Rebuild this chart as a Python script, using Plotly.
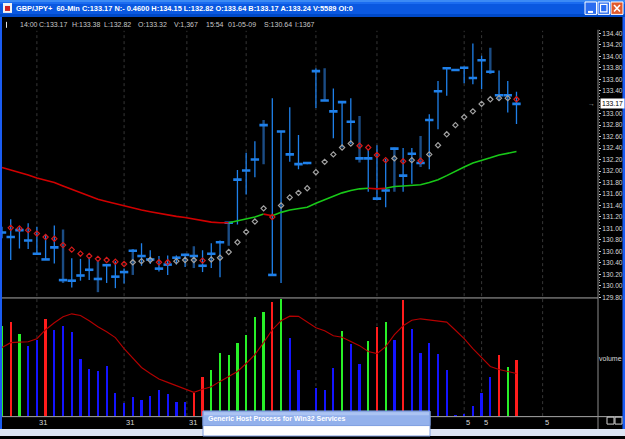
import plotly.graph_objects as go

# ---------------- data ----------------
bar_index = list(range(60))

highs = [131.03, 131.16, 131.02, 131.09, 131.03, 130.90, 131.05, 130.98, 130.48, 130.47,
         130.50, 130.43, 130.38, 130.43, 130.30, 130.64, 130.74, 130.62, 130.52, 130.53,
         130.53, 130.56, 130.69, 130.62, 130.74, 130.79, 131.10, 132.02, 132.32, 132.52,
         132.89, 133.27, 132.69, 133.11, 132.63, 132.15, 133.79, 133.79, 133.44, 133.20,
         133.27, 132.96, 132.38, 132.45, 132.21, 132.41, 132.40, 132.40, 132.61, 132.99,
         133.57, 133.80, 133.77, 133.82, 134.22, 134.01, 134.15, 133.75, 133.57, 133.38]
lows = [130.83, 130.45, 130.65, 130.64, 130.54, 130.45, 130.39, 130.05, 129.97, 130.09,
        130.10, 129.89, 130.05, 129.96, 130.04, 130.19, 130.35, 130.38, 130.25, 130.19,
        130.37, 130.33, 130.31, 130.24, 130.31, 130.15, 130.70, 131.07, 131.59, 131.89,
        132.12, 130.19, 130.05, 132.16, 132.03, 132.12, 133.10, 133.23, 132.57, 132.41,
        132.47, 132.15, 131.64, 131.49, 131.37, 131.64, 131.64, 131.78, 132.07, 132.03,
        132.73, 133.31, 133.75, 133.53, 133.51, 133.43, 133.69, 133.22, 133.02, 132.82]
closes = [130.93, 130.85, 130.97, 130.79, 130.56, 130.46, 130.67, 130.10, 130.09, 130.18,
          130.28, 130.12, 130.36, 130.16, 130.24, 130.61, 130.52, 130.46, 130.30, 130.37,
          130.49, 130.54, 130.52, 130.35, 130.56, 130.76, 131.10, 131.85, 132.01, 132.20,
          132.80, 130.19, 132.69, 132.29, 132.12, 132.14, 133.74, 133.23, 133.04, 133.20,
          132.86, 132.22, 132.22, 131.52, 131.66, 132.39, 131.92, 132.30, 132.14, 132.89,
          133.39, 133.79, 133.76, 133.80, 133.62, 133.93, 133.73, 133.32, 133.32, 133.17]
dark_bars = [7, 11, 15, 22, 26, 30, 37, 41, 45, 48, 56]

sar = [None, 131.01, 131.00, 130.97, 130.91, 130.85, 130.82, 130.71, 130.63, 130.56,
       130.52, 130.47, 130.45, 130.42, 130.38, 130.41, 130.43, 130.45, 130.41, 130.41,
       130.43, 130.45, 130.45, 130.44, 130.46, 130.49, 130.59, 130.76, 130.94, 131.12,
       131.35, 131.20, 131.40, 131.54, 131.62, 131.70, 131.98, 132.16, 132.29, 132.41,
       132.48, 132.44, 132.41, 132.28, 132.19, 132.22, 132.17, 132.19, 132.18, 132.29,
       132.45, 132.64, 132.80, 132.94, 133.04, 133.17, 133.25, 133.27, 133.27, 133.25]
sar_kind = ("-" + "r" * 14 + "g" * 3 + "r" * 2 + "g" * 3 + "r" + "g" * 7 + "r" + "g" * 9
            + "r" * 4 + "g" + "r" + "g" + "r" + "g" * 10 + "r")

ma = [132.06, 132.02, 131.98, 131.93, 131.88, 131.84, 131.80, 131.74, 131.68, 131.62,
      131.56, 131.51, 131.47, 131.43, 131.39, 131.36, 131.32, 131.29, 131.26, 131.24,
      131.21, 131.19, 131.16, 131.14, 131.11, 131.10, 131.10, 131.13, 131.16, 131.20,
      131.25, 131.22, 131.28, 131.32, 131.34, 131.37, 131.44, 131.50, 131.57, 131.62,
      131.66, 131.69, 131.70, 131.69, 131.70, 131.73, 131.74, 131.75, 131.76, 131.80,
      131.85, 131.92, 132.00, 132.07, 132.14, 132.18, 132.23, 132.28, 132.31, 132.34]
ma_seg_kind = "r" * 26 + "g" * 4 + "r" + "g" * 11 + "r" * 2 + "g" * 15

volumes = [2219, 2309, 2017, 1718, 1871, 2389, 2097, 2204, 2066, 1402,
           1166, 1101, 1239, 559, 316, 462, 389, 493, 639, 552,
           347, 347, 559, 948, 1142, 1548, 1490, 1798, 1993, 2430,
           2552, 2795, 2875, 1920, 1135, 49, 680, 649, 1191, 2090,
           1774, 1281, 1840, 2187, 2309, 1854, 2850, 2138, 1555, 1798,
           1514, 1142, 32, 56, 260, 559, 955, 1507, 1215, 1367]
vol_kind = ("grgbbr" + "b" * 16 + "rr" + "g" * 7 + "rg" + "b" * 6 + "gbbgrgbr"
            + "b" * 10 + "rgr")
vol_ma = [1677, 1798, 1810, 1822, 1895, 2114, 2284, 2430, 2503, 2462,
          2333, 2187, 2066, 1920, 1652, 1409, 1191, 1045, 911, 826,
          746, 656, 583, 656, 717, 850, 972, 1094, 1288, 1507,
          1798, 2114, 2333, 2447, 2442, 2309, 2163, 2090, 1968, 1932,
          1822, 1725, 1580, 1531, 1701, 1993, 2211, 2345, 2381, 2357,
          2333, 2301, 2102, 1895, 1652, 1434, 1215, 1142, 1094, 1045]

price_ticks = [129.8, 130.0, 130.2, 130.4, 130.6, 130.8, 131.0, 131.2, 131.4, 131.6,
               131.8, 132.0, 132.2, 132.4, 132.6, 132.8, 133.0, 133.4, 133.6, 133.8,
               134.0, 134.2, 134.4]
last_price = 133.17

grid_at = [4, 14, 21.2, 28, 36, 43, 53, 55, 62]
x_labels = {4: "31", 14: "31", 21.2: "31", 53: "5", 55: "5", 62: "5"}

title_text = ("GBP/JPY+  60-Min C:133.17 N:- 0.4600 H:134.15 L:132.82 O:133.64 "
              "B:133.17 A:133.24 V:5589 OI:0")
info_fields = [("14:00", 18), ("C:133.17", 37), ("H:133.38", 70), ("L:132.82", 102),
               ("O:133.32", 136), ("V:1,367", 172), ("15:54", 204), ("01-05-09", 226),
               ("S:130.64", 262), ("I:1367", 293)]

# ---------------- geometry ----------------
W, H = 625, 439
def px(x):
    return x / W
def py(y):
    return 1 - y / H

X_RANGE = [-2 / 8.72, (598 - 2) / 8.72]
PRICE_RANGE = [129.789, 134.461]
VOL_RANGE = [0, 2892]
FONT = "Liberation Sans"

BRIGHT = "#1f80ea"
DARK = "#1b4c84"

fig = go.Figure()

# price bars (high-low)
for dark, color, width in [(False, BRIGHT, 1.3), (True, DARK, 2.4)]:
    xs, ys = [], []
    for i in bar_index:
        if (i in dark_bars) == dark:
            xs += [i, i, None]
            ys += [lows[i], highs[i], None]
    fig.add_trace(go.Scatter(x=xs, y=ys, mode="lines", line=dict(color=color, width=width),
                             xaxis="x", yaxis="y", hoverinfo="skip"))

# close ticks
fig.add_trace(go.Scatter(x=bar_index, y=closes, mode="markers",
                         marker=dict(symbol="line-ew", size=6,
                                     line=dict(width=2.6, color=BRIGHT)),
                         xaxis="x", yaxis="y", hoverinfo="skip"))

# moving average, coloured segments
runs = []
start = 0
for s in range(1, len(ma_seg_kind) + 1):
    if s == len(ma_seg_kind) or ma_seg_kind[s] != ma_seg_kind[start]:
        runs.append((start, s, ma_seg_kind[start]))
        start = s
for a, b, k in runs:
    fig.add_trace(go.Scatter(x=bar_index[a:b + 1], y=ma[a:b + 1], mode="lines",
                             line=dict(color="#d00000" if k == "r" else "#18c818", width=1.6),
                             xaxis="x", yaxis="y", hoverinfo="skip"))

# parabolic SAR
for k, color in [("r", "#d41a1a"), ("g", "#a0a0a0")]:
    xs = [i for i in bar_index if sar_kind[i] == k]
    ys = [sar[i] for i in xs]
    fig.add_trace(go.Scatter(x=xs, y=ys, mode="markers",
                             marker=dict(symbol="diamond-open", size=4,
                                         line=dict(width=1.2, color=color), color=color),
                             xaxis="x", yaxis="y", hoverinfo="skip"))

# volume
vcol = {"g": "#28f028", "r": "#ff1c1c", "b": "#1414ff"}
fig.add_trace(go.Bar(x=bar_index, y=volumes, width=0.26,
                     marker=dict(color=[vcol[k] for k in vol_kind], line=dict(width=0)),
                     xaxis="x2", yaxis="y2", hoverinfo="skip"))
fig.add_trace(go.Scatter(x=bar_index, y=vol_ma, mode="lines",
                         line=dict(color="#b40000", width=1.1),
                         xaxis="x2", yaxis="y2", hoverinfo="skip"))

shapes = []
def rect(x0, y0, x1, y1, fill, line=None, lw=0):
    shapes.append(dict(type="rect", xref="paper", yref="paper",
                       x0=px(x0), x1=px(x1), y0=py(y1), y1=py(y0),
                       fillcolor=fill, line=dict(width=lw, color=line or fill), layer="above"))
def hline(x0, x1, y, color, w=1, dash=None):
    shapes.append(dict(type="line", xref="paper", yref="paper", x0=px(x0), x1=px(x1),
                       y0=py(y), y1=py(y), line=dict(color=color, width=w, dash=dash),
                       layer="above"))
def vline(x, y0, y1, color, w=1, dash=None):
    shapes.append(dict(type="line", xref="paper", yref="paper", x0=px(x), x1=px(x),
                       y0=py(y0), y1=py(y1), line=dict(color=color, width=w, dash=dash),
                       layer="above"))

# dotted time grid
for g in grid_at:
    shapes.append(dict(type="line", xref="x", yref="paper", x0=g, x1=g,
                       y0=py(419), y1=py(31), line=dict(color="#363636", width=1, dash="dot"),
                       layer="below"))

# panel lines
hline(0, 598, 300, "#a8a8a8")
hline(0, 625, 419.5, "#a8a8a8")
vline(598, 30, 432, "#8c8c8c")

# title bar
rect(0, 0, 625, 17, "#0a58e0")
rect(0, 0, 625, 2, "#3b8af5")
rect(0, 2, 625, 4, "#1b6cf0")
rect(0, 14, 625, 17, "#0049c8")
# icon
rect(3, 3, 12, 13, "#f2f2f2")
rect(5, 6, 10, 11, "#d02020")
# window buttons
rect(585, 2, 596.5, 14.5, "#2b6df0", "#ffffff", 1)
hline(588, 593, 12, "#ffffff", 2)
rect(598, 2, 609.5, 14.5, "#2b6df0", "#ffffff", 1)
rect(600.5, 4.5, 607, 12, "rgba(0,0,0,0)", "#ffffff", 1.2)
rect(611, 2, 623, 14.5, "#e05a2c", "#ffffff", 1)
shapes.append(dict(type="line", xref="paper", yref="paper", x0=px(614), x1=px(620),
                   y0=py(5), y1=py(11.5), line=dict(color="#ffffff", width=1.6), layer="above"))
shapes.append(dict(type="line", xref="paper", yref="paper", x0=px(614), x1=px(620),
                   y0=py(11.5), y1=py(5), line=dict(color="#ffffff", width=1.6), layer="above"))

# window borders
rect(0, 17, 2, 433, "#1a5cf2")
rect(622.5, 17, 625, 433, "#1a5cf2")
# cursor mark
vline(6.5, 22, 28, "#e0e0e0", 1)

# bottom strips
rect(0, 432, 625, 439, "#dfe6f4")
# small boxes bottom-right
rect(607, 420, 614, 427, "rgba(0,0,0,0)", "#d0d0d0", 1)
rect(615, 420, 622, 427, "rgba(0,0,0,0)", "#d0d0d0", 1)

# popup
rect(203, 414, 430, 439, "#ffffff", "#7e9ee0", 1)
rect(203, 414, 430, 428.5, "#93b1ec", "#7e9ee0", 1)
rect(204, 415, 429, 418, "#acc4f2")

annotations = []
annotations.append(dict(text="<b>%s</b>" % title_text, x=px(14), y=py(9), xref="paper",
                        yref="paper", xanchor="left", yanchor="middle", showarrow=False,
                        font=dict(family=FONT, size=7.4, color="#ffffff")))
for txt, xx in info_fields:
    annotations.append(dict(text=txt, x=px(xx), y=py(24.5), xref="paper", yref="paper",
                            xanchor="left", yanchor="middle", showarrow=False,
                            font=dict(family=FONT, size=7, color="#c8c8c8")))
for g, lab in x_labels.items():
    annotations.append(dict(text=lab, x=g, y=py(425), xref="x", yref="paper",
                            xanchor="left", yanchor="middle", showarrow=False,
                            font=dict(family=FONT, size=7.5, color="#d8d8d8")))
annotations.append(dict(text="volume", x=px(610), y=py(361), xref="paper", yref="paper",
                        xanchor="center", yanchor="middle", showarrow=False,
                        font=dict(family=FONT, size=7, color="#d8d8d8")))
annotations.append(dict(text="%.2f" % last_price, x=px(600), y=last_price, xref="paper",
                        yref="y", xanchor="left", yanchor="middle", showarrow=False,
                        bgcolor="#ffffff", borderpad=1,
                        font=dict(family=FONT, size=6.8, color="#000000")))
annotations.append(dict(text="→", x=px(597), y=last_price, xref="paper", yref="y",
                        xanchor="right", yanchor="middle", showarrow=False,
                        font=dict(family=FONT, size=7, color="#a0a0a0")))
annotations.append(dict(text="<b>Generic Host Process for Win32 Services</b>", x=px(206),
                        y=py(421.5), xref="paper", yref="paper", xanchor="left",
                        yanchor="middle", showarrow=False,
                        font=dict(family=FONT, size=7, color="#ffffff")))

fig.update_layout(
    width=W, height=H, autosize=False,
    margin=dict(l=0, r=0, t=0, b=0, pad=0),
    paper_bgcolor="#000000", plot_bgcolor="#000000",
    showlegend=False, bargap=0,
    xaxis=dict(domain=[0, px(598)], range=X_RANGE, visible=False, anchor="y", fixedrange=True),
    yaxis=dict(domain=[py(300), py(30)], range=PRICE_RANGE, side="right", anchor="x",
               tickmode="array", tickvals=price_ticks,
               ticktext=["%.2f" % t for t in price_ticks],
               ticks="outside", ticklen=2, tickcolor="#d0d0d0", tickwidth=1,
               tickfont=dict(family=FONT, size=6.6, color="#d8d8d8"),
               showgrid=False, zeroline=False, showline=False,
               minor=dict(tickmode="linear", tick0=129.8, dtick=0.05, ticks="outside",
                          ticklen=1, tickcolor="#9a9a9a", showgrid=False),
               fixedrange=True),
    xaxis2=dict(domain=[0, px(598)], range=X_RANGE, visible=False, anchor="y2",
                fixedrange=True),
    yaxis2=dict(domain=[py(419), py(300)], range=VOL_RANGE, visible=False, anchor="x2",
                fixedrange=True),
    shapes=shapes,
    annotations=annotations,
)

fig.write_html("out.html", config={"displayModeBar": False})
